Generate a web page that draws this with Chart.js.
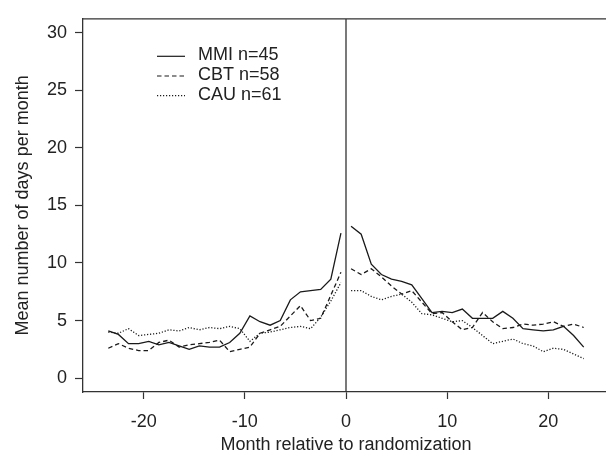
<!DOCTYPE html>
<html>
<head>
<meta charset="utf-8">
<script src="https://cdn.jsdelivr.net/npm/chart.js@4/dist/chart.umd.min.js"></script>
<style>
  html, body { margin: 0; padding: 0; background: #fff; overflow: hidden; }
  #wrap { width: 620px; height: 456px; }
</style>
</head>
<body>
<div id="wrap"><canvas id="chart" width="620" height="456"></canvas></div>
<script>
// months relative to randomization (mid-month positions)
const monthsBefore = [-23.5, -22.5, -21.5, -20.5, -19.5, -18.5, -17.5, -16.5, -15.5, -14.5, -13.5, -12.5,
  -11.5, -10.5, -9.5, -8.5, -7.5, -6.5, -5.5, -4.5, -3.5, -2.5, -1.5, -0.5];
const monthsAfter = [0.5, 1.5, 2.5, 3.5, 4.5, 5.5, 6.5, 7.5, 8.5, 9.5, 10.5, 11.5,
  12.5, 13.5, 14.5, 15.5, 16.5, 17.5, 18.5, 19.5, 20.5, 21.5, 22.5, 23.5];

const mmiBefore = [4.1, 3.8, 3.0, 3.0, 3.2, 2.9, 3.1, 2.8, 2.5, 2.8, 2.7, 2.7, 3.1, 3.9, 5.4, 4.9, 4.6, 5.0, 6.8, 7.5, 7.6, 7.7, 8.6, 12.6];
const mmiAfter = [13.2, 12.5, 9.9, 9.0, 8.6, 8.4, 8.1, 6.9, 5.7, 5.8, 5.7, 6.0, 5.2, 5.2, 5.2, 5.8, 5.2, 4.3, 4.2, 4.1, 4.2, 4.5, 3.7, 2.7];
const cbtBefore = [2.6, 3.0, 2.6, 2.4, 2.4, 3.1, 3.3, 2.7, 2.9, 3.0, 3.1, 3.3, 2.3, 2.5, 2.7, 3.9, 4.2, 4.5, 5.4, 6.3, 5.0, 5.2, 7.2, 9.2];
const cbtAfter = [9.5, 9.0, 9.5, 8.8, 8.0, 7.3, 7.6, 6.6, 5.6, 5.7, 4.9, 4.2, 4.4, 5.7, 4.9, 4.3, 4.4, 4.7, 4.6, 4.7, 4.9, 4.5, 4.7, 4.4];
const cauBefore = [4.0, 3.9, 4.3, 3.7, 3.8, 3.9, 4.2, 4.1, 4.4, 4.2, 4.4, 4.3, 4.5, 4.3, 3.2, 3.9, 4.0, 4.2, 4.4, 4.5, 4.3, 5.3, 6.7, 8.3];
const cauAfter = [7.6, 7.6, 7.1, 6.8, 7.1, 7.3, 6.6, 5.6, 5.5, 5.2, 4.9, 5.0, 4.4, 3.7, 3.0, 3.2, 3.4, 3.0, 2.8, 2.3, 2.6, 2.5, 2.1, 1.7];

const seriesLabels = ['MMI n=45', 'CBT n=58', 'CAU n=61'];
const xTicks = [-20, -10, 0, 10, 20];
const yTicks = [0, 5, 10, 15, 20, 25, 30];

const ink = '#1a1a1a';
const axisInk = '#333';
const font = { family: "'Liberation Sans', Arial, sans-serif", size: 18 };

// join both halves with a gap at randomization
function points(before, after) {
  const pts = monthsBefore.map((m, i) => ({ x: m, y: before[i] }));
  pts.push({ x: 0, y: null });
  return pts.concat(monthsAfter.map((m, i) => ({ x: m, y: after[i] })));
}

const dashes = [[], [4.5, 3], [1.2, 1.8]];
const datasets = [
  points(mmiBefore, mmiAfter),
  points(cbtBefore, cbtAfter),
  points(cauBefore, cauAfter),
].map((data, i) => ({
  label: seriesLabels[i],
  data,
  borderColor: ink,
  borderWidth: 1.3,
  borderDash: dashes[i],
  pointRadius: 0,
  tension: 0,
  spanGaps: false,
  fill: false,
}));

// top edge of the box, the line at month 0 and the legend
const frame = {
  id: 'frame',
  afterDraw(chart) {
    const { ctx, chartArea: a, scales } = chart;
    ctx.save();
    ctx.strokeStyle = axisInk;
    ctx.lineWidth = 1.3;
    ctx.beginPath();
    ctx.moveTo(a.left, a.top);
    ctx.lineTo(a.right, a.top);
    const x0 = Math.round(scales.x.getPixelForValue(0));
    ctx.moveTo(x0, a.top);
    ctx.lineTo(x0, a.bottom);
    ctx.stroke();

    ctx.font = font.size + 'px ' + font.family;
    ctx.textBaseline = 'middle';
    ctx.fillStyle = '#222';
    chart.data.datasets.forEach((ds, i) => {
      const y = a.top + 37.5 + i * 19.7;
      ctx.strokeStyle = ink;
      ctx.lineWidth = 1.2;
      ctx.setLineDash(ds.borderDash);
      ctx.beginPath();
      ctx.moveTo(a.left + 74, y);
      ctx.lineTo(a.left + 102, y);
      ctx.stroke();
      ctx.setLineDash([]);
      ctx.fillText(ds.label, a.left + 115, y - 1);
    });
    ctx.restore();
  },
};

new Chart(document.getElementById('chart'), {
  type: 'line',
  data: { datasets },
  plugins: [frame],
  options: {
    responsive: false,
    animation: false,
    layout: { padding: { top: 12, right: 11, left: 0, bottom: 0 } },
    plugins: { legend: { display: false }, tooltip: { enabled: false } },
    scales: {
      x: {
        type: 'linear',
        min: -26,
        max: 26,
        afterBuildTicks: (s) => { s.ticks = xTicks.map((v) => ({ value: v })); },
        afterFit: (s) => { s.height = 64; },
        grid: { drawOnChartArea: false, drawTicks: true, tickLength: 7, tickColor: axisInk, tickWidth: 1.2 },
        border: { display: true, color: axisInk, width: 1.3 },
        ticks: { font, color: '#222', padding: 12, maxRotation: 0 },
        title: { display: true, text: 'Month relative to randomization', font, color: '#222', padding: { top: 0, bottom: 0 } },
      },
      y: {
        type: 'linear',
        min: -1.2,
        max: 31.2,
        afterBuildTicks: (s) => { s.ticks = yTicks.map((v) => ({ value: v })); },
        afterFit: (s) => { s.width = 83; },
        grid: { drawOnChartArea: false, drawTicks: true, tickLength: 8, tickColor: axisInk, tickWidth: 1.2 },
        border: { display: true, color: axisInk, width: 1.3 },
        ticks: { font, color: '#222', padding: 8 },
        title: { display: true, text: 'Mean number of days per month', font, color: '#222', padding: { top: 12, bottom: 0 } },
      },
    },
  },
});
</script>
</body>
</html>
